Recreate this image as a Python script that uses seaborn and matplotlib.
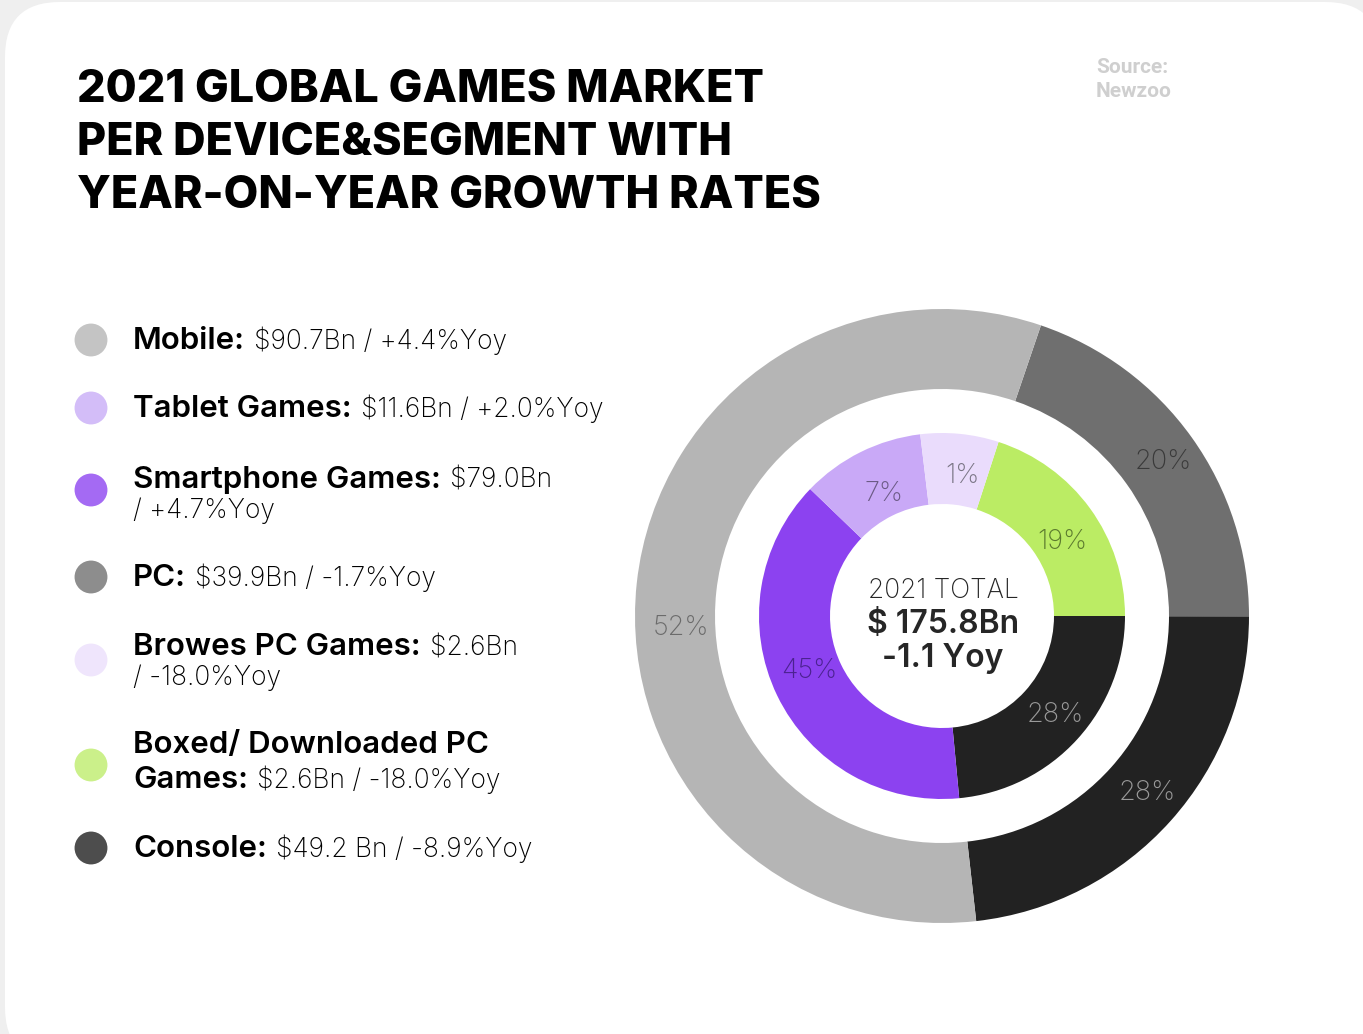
import matplotlib
matplotlib.use("Agg")
import matplotlib.pyplot as plt
import seaborn as sns
import pandas as pd
from matplotlib.patches import FancyBboxPatch
import numpy as np

# outer ring (device): wedge shares as drawn, printed labels
device_names = ["PC", "Console", "Mobile"]
device_share = [19.8, 23.2, 57.0]
device_labels = ["20%", "28%", "52%"]
device_colors = ["#6f6f6f", "#222222", "#b5b5b5"]
device_label_colors = ["#3a3a3a", "#9a9a9a", "#6b6b6b"]

# inner ring (segment)
segment_names = ["Boxed/Downloaded PC", "Console", "Smartphone", "Tablet", "Browser PC"]
segment_share = [20.0, 23.5, 38.7, 10.9, 6.9]
segment_labels = ["19%", "28%", "45%", "7%", "1%"]
segment_colors = ["#bbec64", "#222222", "#8c42f0", "#c9a9f7", "#eadcfc"]
segment_label_colors = ["#5b7a2e", "#9a9a9a", "#4b2290", "#6b5a85", "#7a7585"]

# legend text
legend_names = ["Mobile:", "Tablet Games:", "Smartphone Games:", "PC:",
                "Browes PC Games:", "Boxed/ Downloaded PC Games:", "Console:"]
legend_values = ["$90.7Bn / +4.4%Yoy", "$11.6Bn / +2.0%Yoy", "$79.0Bn / +4.7%Yoy",
                 "$39.9Bn / -1.7%Yoy", "$2.6Bn / -18.0%Yoy", "$2.6Bn / -18.0%Yoy",
                 "$49.2 Bn / -8.9%Yoy"]
legend_colors = ["#c4c4c4", "#d3bdf8", "#a46af3", "#8d8d8d", "#efe5fc", "#cbf08a", "#4d4d4d"]

title_lines = ["2021 GLOBAL GAMES MARKET", "PER DEVICE&SEGMENT WITH", "YEAR-ON-YEAR GROWTH RATES"]
total_lines = ["2021 TOTAL", "$ 175.8Bn", "-1.1 Yoy"]

sns.set_theme(style="white")
plt.rcParams['font.family'] = ['Inter', 'DejaVu Sans']

W, H = 1363, 1034
fig = plt.figure(figsize=(W / 100, H / 100), dpi=100, facecolor="#efefef")

# background axes in pixel coords
bg = fig.add_axes([0, 0, 1, 1])
bg.set_xlim(0, W)
bg.set_ylim(H, 0)
bg.axis("off")
bg.add_patch(FancyBboxPatch((5, 2), 1375, 1060, boxstyle="round,pad=0,rounding_size=55",
                            facecolor="white", edgecolor="none"))

# title
for i, line in enumerate(title_lines):
    bg.text(77, 102 + 53 * i, line, fontsize=32.4, fontweight="heavy", color="black",
            va="baseline", ha="left")

bg.text(1096, 73, "Source:", fontsize=15, fontweight="bold", color="#cfcfcf",
        family="Roboto", va="baseline")
bg.text(1096, 97, "Newzoo", fontsize=15, fontweight="bold", color="#cfcfcf",
        family="Roboto", va="baseline")

# legend dots
dot_y = [340, 408, 490, 577, 660, 765, 848]
dots = pd.DataFrame({"x": [91] * len(dot_y), "y": dot_y, "name": legend_names})
sns.scatterplot(data=dots, x="x", y="y", hue="name", palette=legend_colors,
                s=560, linewidth=0, legend=False, ax=bg)

# legend text (bold name + light value), some entries wrapped onto two lines
fig.canvas.draw()
renderer = fig.canvas.get_renderer()
inv = bg.transData.inverted()


def write_line(x, y, bold, light):
    if bold:
        t = bg.text(x, y, bold, fontsize=22.5, fontweight="semibold", color="black", va="baseline")
        bb = t.get_window_extent(renderer)
        x = inv.transform((bb.x1, bb.y0))[0] + 9
    if light:
        bg.text(x, y, light, fontsize=19, fontweight="light", color="black", va="baseline")


wrap = {2: "value", 4: "value", 5: "name"}
base_y = [349, 417, 488, 586, 655, 753, 857]
for i, (name, val) in enumerate(zip(legend_names, legend_values)):
    y = base_y[i]
    if wrap.get(i) == "value":
        first, second = val.split(" / ")
        write_line(133, y, name, first)
        write_line(133, y + 30, None, "/ " + second)
    elif wrap.get(i) == "name":
        write_line(133, y, "Boxed/ Downloaded PC", None)
        write_line(133, y + 35, "Games:", val)
    else:
        write_line(133, y, name, val)

# donut axes: centre (942, 616) px, outer radius 307 px
R = 307
half = 330
ax = fig.add_axes([(942 - half) / W, (H - 616 - half) / H, 2 * half / W, 2 * half / H])
ax.axis("off")

outer, _ = ax.pie(device_share, radius=1.0, startangle=90 - 18.8, counterclock=False,
                  colors=device_colors, wedgeprops=dict(width=80 / R, linewidth=0))
inner, _ = ax.pie(segment_share, radius=183 / R, startangle=90 - 18.0, counterclock=False,
                  colors=segment_colors, wedgeprops=dict(width=71 / R, linewidth=0))
ax.set_xlim(-half / R, half / R)
ax.set_ylim(-half / R, half / R)

# label placement: radius and small angle nudge off the wedge middle
device_label_r = [0.877, 0.882, 0.851]
device_label_nudge = [-0.7, 1.0, 8.8]
segment_label_r = [0.459, 0.489, 0.469, 0.44, 0.461]
segment_label_nudge = [-4.3, 1.1, -3.2, -1.1, -2.9]


def label_ring(wedges, labels, colors, radii, nudges):
    for w, lab, c, r, d in zip(wedges, labels, colors, radii, nudges):
        mid = np.deg2rad((w.theta1 + w.theta2) / 2 + d)
        ax.text(r * np.cos(mid), r * np.sin(mid), lab, ha="center", va="center",
                fontsize=19.5, fontweight="light", color=c)


label_ring(outer, device_labels, device_label_colors, device_label_r, device_label_nudge)
label_ring(inner, segment_labels, segment_label_colors, segment_label_r, segment_label_nudge)

# centre text
bg.text(943, 591, total_lines[0], fontsize=19, fontweight="light", ha="center", va="center")
bg.text(943, 625, total_lines[1], fontsize=23, fontweight="semibold", ha="center", va="center")
bg.text(943, 659, total_lines[2], fontsize=23, fontweight="semibold", ha="center", va="center")

fig.savefig("out.png", dpi=100, facecolor=fig.get_facecolor())
